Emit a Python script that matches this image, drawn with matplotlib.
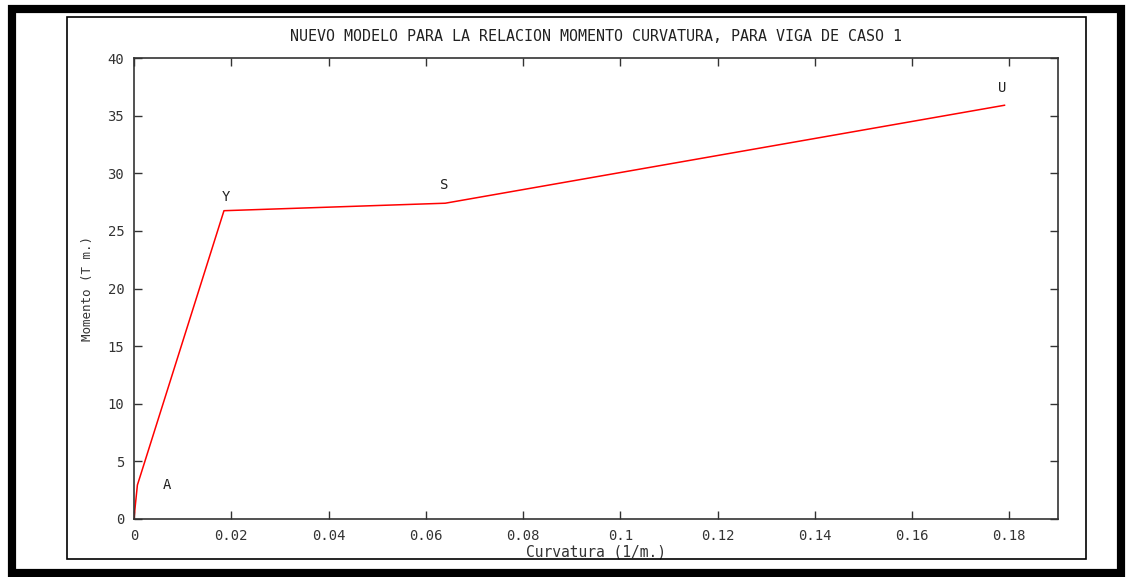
import matplotlib
matplotlib.use("Agg")
import matplotlib.pyplot as plt
from matplotlib.patches import Rectangle

# momento-curvatura: puntos del modelo (curvatura 1/m, momento T m)
curvatura = [0.0, 0.00027, 0.0007, 0.00134, 0.0185, 0.0640, 0.1790]
momento = [0.0, 1.2, 2.95, 3.8, 26.75, 27.4, 35.9]

# etiquetas de los puntos notables
etiquetas = ["A", "Y", "S", "U"]
etiq_x = [0.0068, 0.0189, 0.0638, 0.1786]
etiq_y = [2.95, 27.9, 29.0, 37.4]

xticks = [0, 0.02, 0.04, 0.06, 0.08, 0.1, 0.12, 0.14, 0.16, 0.18]
xtick_labels = ["0", "0.02", "0.04", "0.06", "0.08", "0.1", "0.12", "0.14", "0.16", "0.18"]
yticks = [0, 5, 10, 15, 20, 25, 30, 35, 40]

W, H = 1127, 577
fig = plt.figure(figsize=(W / 100, H / 100), dpi=100)
fig.patch.set_facecolor("white")

mono = "DejaVu Sans Mono"


def px_rect(x0, y0, x1, y1, lw, color):
    # rectangle given in pixel coords (origin top-left)
    r = Rectangle((x0 / W, 1 - y1 / H), (x1 - x0) / W, (y1 - y0) / H,
                  transform=fig.transFigure, fill=False, lw=lw, ec=color)
    fig.add_artist(r)


px_rect(12, 8.5, 1120.5, 572.5, 5.9, "black")
px_rect(67, 17, 1086, 559, 1.2, "black")

ax = fig.add_axes([134 / W, 1 - 519 / H, (1058 - 134) / W, (519 - 58) / H])
ax.plot(curvatura, momento, color="#ff0000", lw=1.1)

for t, x, y in zip(etiquetas, etiq_x, etiq_y):
    ax.text(x, y, t, family=mono, fontsize=10, color="#222222",
            ha="center", va="center")

ax.set_xlim(0, 0.19)
ax.set_ylim(0, 40)
ax.set_xticks(xticks)
ax.set_xticklabels(xtick_labels)
ax.set_yticks(yticks)
ax.tick_params(direction="in", length=6, width=1, top=True, right=True,
               labelsize=10, colors="#333333", pad=7)
for lab in ax.get_xticklabels() + ax.get_yticklabels():
    lab.set_family(mono)
for s in ax.spines.values():
    s.set_linewidth(1.2)
    s.set_color("#333333")

ax.set_title("NUEVO MODELO PARA LA RELACION MOMENTO CURVATURA, PARA VIGA DE CASO 1",
             family=mono, fontsize=10.8, color="#222222", pad=12)
ax.set_xlabel("Curvatura (1/m.)", family=mono, fontsize=10.5, color="#333333", labelpad=1)
ax.set_ylabel("Momento (T m.)", family=mono, fontsize=9, color="#333333", labelpad=10)

fig.savefig("out.png", dpi=100)
